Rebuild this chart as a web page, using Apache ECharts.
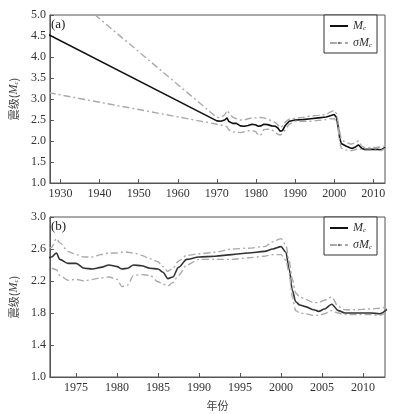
<!DOCTYPE html>
<html>
<head>
<meta charset="utf-8">
<script src="https://cdn.jsdelivr.net/npm/echarts@6/dist/echarts.min.js"></script>
<style>
  html, body { margin: 0; padding: 0; background: #fff; }
  #chart { width: 393px; height: 414px; }
</style>
</head>
<body>
<div id="chart"></div>
<script>
// 年份
var years = [1927, 1970, 1971, 1972, 1972.6, 1973, 1974, 1975, 1976, 1977, 1978, 1979, 1980, 1980.6, 1981.3,
    1982, 1983, 1984, 1985, 1985.6, 1986.2, 1986.8, 1987.5, 1988.5, 1990, 1992, 1994, 1996, 1998, 1999,
    2000, 2000.6, 2001, 2001.4, 2001.8, 2002.3, 2003, 2004, 2004.6, 2005.3, 2006.2, 2007, 2007.8, 2009,
    2011, 2012, 2013];
// Mc
var mcVals = [4.53, 2.48, 2.47, 2.50, 2.55, 2.47, 2.42, 2.42, 2.36, 2.35, 2.37, 2.40, 2.38, 2.35, 2.36,
    2.40, 2.39, 2.36, 2.35, 2.31, 2.23, 2.25, 2.37, 2.47, 2.50, 2.51, 2.53, 2.55, 2.57, 2.60,
    2.63, 2.56, 2.35, 2.08, 1.94, 1.90, 1.88, 1.84, 1.82, 1.85, 1.91, 1.83, 1.80, 1.80,
    1.80, 1.79, 1.85];
// Mc + σMc
var upperVals = [5.93, 2.56, 2.56, 2.62, 2.73, 2.68, 2.57, 2.53, 2.50, 2.50, 2.53, 2.55, 2.55, 2.56, 2.56,
    2.55, 2.52, 2.48, 2.44, 2.38, 2.32, 2.36, 2.45, 2.52, 2.54, 2.56, 2.60, 2.61, 2.63, 2.69,
    2.73, 2.65, 2.45, 2.22, 2.05, 2.00, 1.97, 1.93, 1.93, 1.96, 2.00, 1.88, 1.84, 1.84,
    1.85, 1.86, 1.88];
// Mc - σMc
var lowerVals = [3.15, 2.40, 2.38, 2.36, 2.34, 2.27, 2.21, 2.22, 2.20, 2.22, 2.24, 2.25, 2.22, 2.13, 2.15,
    2.27, 2.28, 2.27, 2.19, 2.16, 2.14, 2.18, 2.27, 2.40, 2.47, 2.47, 2.47, 2.49, 2.51, 2.53,
    2.53, 2.46, 2.30, 2.00, 1.83, 1.80, 1.79, 1.77, 1.77, 1.79, 1.83, 1.80, 1.78, 1.78,
    1.78, 1.77, 1.82];
var topTicks = [1930, 1940, 1950, 1960, 1970, 1980, 1990, 2000, 2010];
var bottomTicks = [1975, 1980, 1985, 1990, 1995, 2000, 2005, 2010];

var FONT = '"Liberation Serif", "Times New Roman", serif';
var AXIS_COLOR = '#555';

function pairs(ys) {
    var out = [];
    for (var i = 0; i < years.length; i++) {
        out.push([years[i], ys[i]]);
    }
    return out;
}

function makeX(idx, min, max, ticks, showName) {
    return {
        type: 'value', gridIndex: idx, min: min, max: max,
        name: showName ? '年份' : '',
        nameLocation: 'middle', nameGap: 23,
        nameTextStyle: { fontFamily: '"Noto Sans CJK SC", sans-serif', fontSize: 11, color: '#444' },
        splitLine: { show: false },
        axisLine: { lineStyle: { color: AXIS_COLOR, width: 1 } },
        axisTick: { inside: true, length: 4, customValues: ticks, lineStyle: { color: AXIS_COLOR } },
        axisLabel: {
            customValues: ticks, color: '#333', fontFamily: FONT, fontSize: 12, margin: 5,
            formatter: function (v) { return String(v); }
        }
    };
}

function makeY(idx, min, max, interval) {
    return {
        type: 'value', gridIndex: idx, min: min, max: max, interval: interval,
        name: '{t|震级(}{i|M}{s|c}{t|)}',
        nameLocation: 'middle', nameGap: 25, nameRotate: 90,
        nameTextStyle: {
            rich: {
                t: { fontFamily: '"Noto Sans CJK SC", sans-serif', fontSize: 11, color: '#444' },
                i: { fontFamily: FONT, fontStyle: 'italic', fontSize: 12, color: '#444' },
                s: { fontFamily: FONT, fontStyle: 'italic', fontSize: 7, color: '#444', verticalAlign: 'bottom', padding: [4, 0, 0, 0] }
            }
        },
        splitLine: { show: false },
        axisLine: { show: true, lineStyle: { color: AXIS_COLOR, width: 1 } },
        axisTick: { inside: true, length: 4, lineStyle: { color: AXIS_COLOR } },
        axisLabel: {
            color: '#333', fontFamily: FONT, fontSize: 12, margin: 4,
            formatter: function (v) { return v.toFixed(1); }
        }
    };
}

function makeSeries(idx) {
    var dash = [7, 3, 2, 3];
    var sm = idx === 0 ? false : 0.3;
    return [{
        name: 'Mc', type: 'line', xAxisIndex: idx, yAxisIndex: idx,
        data: pairs(mcVals), symbol: 'none', smooth: sm, smoothMonotone: 'x',
        lineStyle: { color: idx === 0 ? '#111' : '#333', width: 1.6 },
        itemStyle: { color: '#222' }, z: 3
    }, {
        name: 'σMc', type: 'line', xAxisIndex: idx, yAxisIndex: idx,
        data: pairs(upperVals), symbol: 'circle', symbolSize: 3, showSymbol: false, smooth: sm, smoothMonotone: 'x',
        lineStyle: { color: '#aaa', width: 1.4, type: dash },
        itemStyle: { color: '#888' }
    }, {
        name: 'σMc', type: 'line', xAxisIndex: idx, yAxisIndex: idx,
        data: pairs(lowerVals), symbol: 'circle', symbolSize: 3, showSymbol: false, smooth: sm, smoothMonotone: 'x',
        lineStyle: { color: '#aaa', width: 1.4, type: dash },
        itemStyle: { color: '#888' }
    }];
}

function makeLegend(top) {
    return {
        orient: 'vertical', left: 324, top: top, width: 61,
        data: [
            { name: 'Mc', itemStyle: { color: 'rgba(0,0,0,0)', borderWidth: 0 } },
            { name: 'σMc', itemStyle: { color: '#777', borderWidth: 0 } }
        ],
        itemWidth: 18, itemHeight: 3, itemGap: 5,
        padding: [5, 5, 4, 5],
        borderColor: '#333', borderWidth: 1, borderRadius: 0, backgroundColor: '#fff',
        selectedMode: false,
        formatter: function (name) {
            return name === 'Mc' ? '{i|M}{s|c}' : '{i|σM}{s|c}';
        },
        textStyle: {
            rich: {
                i: { fontFamily: FONT, fontStyle: 'italic', fontSize: 12, color: '#333' },
                s: { fontFamily: FONT, fontStyle: 'italic', fontSize: 7, color: '#333', verticalAlign: 'bottom', padding: [4, 0, 0, 0] }
            }
        }
    };
}

var chart = echarts.init(document.getElementById('chart'));
chart.setOption({
    animation: false,
    backgroundColor: '#fff',
    grid: [
        { left: 41, top: 15, right: 8, height: 168, show: true, borderColor: AXIS_COLOR, borderWidth: 1 },
        { left: 41, top: 217, right: 8, height: 160, show: true, borderColor: AXIS_COLOR, borderWidth: 1 }
    ],
    xAxis: [makeX(0, 1927.3, 2013, topTicks, false), makeX(1, 1971.8, 2012.7, bottomTicks, true)],
    yAxis: [makeY(0, 1, 5, 0.5), makeY(1, 1, 3, 0.4)],
    legend: [makeLegend(15), makeLegend(217)],
    graphic: [
        { type: 'text', left: 51, top: 18, style: { text: '(a)', font: '13px ' + FONT, fill: '#222' } },
        { type: 'text', left: 51, top: 220, style: { text: '(b)', font: '13px ' + FONT, fill: '#222' } }
    ],
    series: makeSeries(0).concat(makeSeries(1))
});
</script>
</body>
</html>
